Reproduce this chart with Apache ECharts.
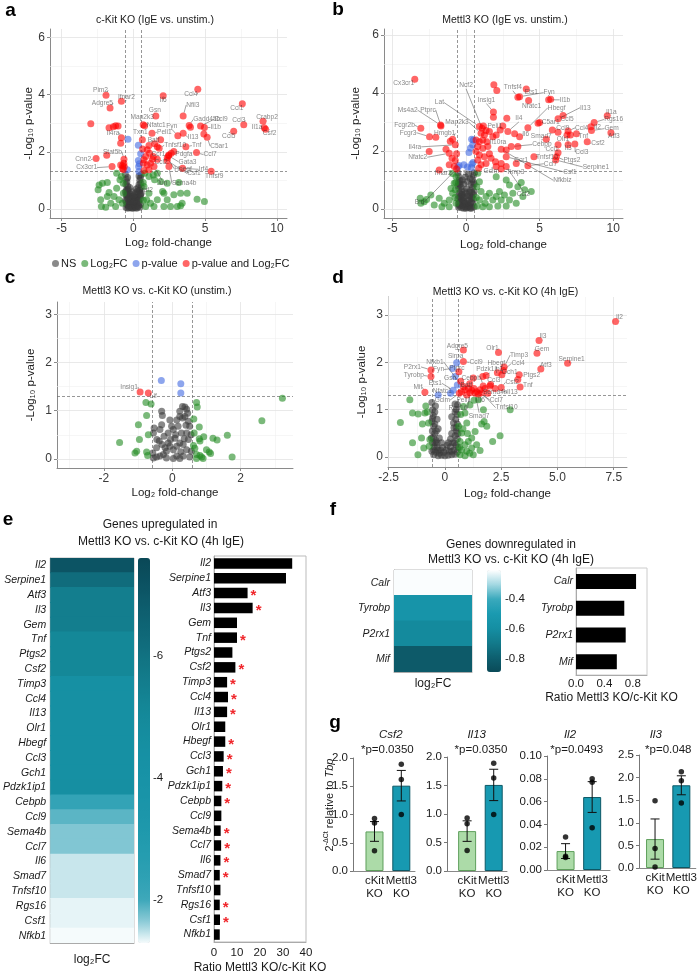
<!DOCTYPE html>
<html>
<head>
<meta charset="utf-8">
<title>Mettl3 KO vs c-Kit KO</title>
<script src="https://cdn.jsdelivr.net/npm/echarts@6.0.0/dist/echarts.min.js"></script>
<style>
html, body { margin: 0; padding: 0; background: #fff; }
#chart { width: 700px; height: 976px; }
</style>
</head>
<body>
<div id="chart"></div>
<script>
// ---------- volcano a : c-Kit KO (IgE vs. unstim.) ----------
const aNS = [[-0.55,1.2],[-0.5,1.05],[-0.45,0.95],[-0.52,0.85],[-0.4,0.8],[-0.35,0.7],[-0.48,0.65],[-0.3,0.55],[-0.42,0.5],[-0.25,0.45],[-0.38,0.35],[-0.2,0.35],[-0.15,0.25],[-0.32,0.22],[-0.1,0.15],[-0.25,0.12],[-0.05,0.08],[-0.45,0.15],[-0.55,0.3],[-0.5,0.05],[0,0.03],[0.05,0.1],[0.1,0.18],[0.15,0.28],[0.2,0.4],[0.25,0.5],[0.3,0.62],[0.35,0.75],[0.4,0.85],[0.45,1.0],[0.5,1.1],[0.55,1.2],[0.52,0.9],[0.42,0.6],[0.48,0.45],[0.3,0.3],[0.38,0.2],[0.2,0.08],[0.5,0.15],[0.55,0.55],[0.12,0.05],[-0.18,0.05],[-0.3,0.05],[0.3,0.06],[0.45,0.06],[-0.4,1.1],[0.4,1.15],[-0.1,0.35],[0.08,0.4],[-0.02,0.22],[-0.55,0.6],[0.55,0.75],[-0.25,0.75],[0.2,0.7],
  [-0.5,0.25],[-0.35,0.1],[-0.2,0.2],[0.0,0.12],[0.1,0.3],[0.25,0.2],[0.35,0.1],[0.5,0.35],[-0.45,0.45],[-0.15,0.5],[0.15,0.55],[0.3,0.4],[-0.3,0.4],[0,0.45],[-0.05,0.6],[0.45,0.65],[-0.4,0.65],[0.05,0.25],[-0.1,0.02],[0.22,0.02],[-0.38,0.02],[0.4,0.3],[-0.5,0.5],[0.5,0.5]];
const aFC = [[-2.38,0.84],[-2.15,0.90],[-1.81,0.92],[-2.45,0.67],[-2.27,0.32],[-2.22,0.08],[-1.57,0.20],[-1.81,0.43],[-1.34,0.43],[-1.16,0.72],[-0.93,1.02],[-1.16,1.25],[-0.83,1.13],[-1.00,0.32],[-0.76,0.20],[-0.69,0.55],[-1.23,0.08],[-1.92,0.06],[-1.69,0.57],[0.79,1.25],[1.09,1.13],[1.39,1.19],[1.48,1.02],[1.67,1.25],[1.90,0.96],[2.04,0.61],[1.67,0.32],[1.20,0.20],[1.09,0.55],[2.36,0.32],[2.82,0.49],[3.29,0.55],[3.40,0.20],[2.59,0.08],[3.75,0.55],[4.44,0.34],[4.95,0.26],[2.36,0.90],[3.17,0.92],[0.74,0.78],[0.93,0.32],[2.13,0.55],[3.06,0.08],[3.29,0.11],[2.13,0.08],[1.44,0.08],[0.86,0.08],[0.69,0.92,'Traf2'],[0.7,0.3],[-0.7,0.9]];
const aP = [[-0.37,2.44],[0.35,2.23],[0.51,1.93],[0.35,1.69],[0.42,1.58],[0.37,1.48],[-0.42,1.37],[0.39,1.31]];
const aBoth = [[-2.96,2.98],[-1.69,2.84],[-1.39,2.88],[-1.23,2.91],[-1.06,2.90],[-1.90,3.98,'Pim2'],[-0.83,3.77,'Ifnar2'],[-1.62,3.53,'Adgre5'],[-0.83,2.49,'Il4ra'],[-0.88,2.30],[-2.59,1.76,'Cnn2'],[-1.85,1.88],[-0.65,1.74,'Stat5b'],[-0.66,1.60],[-0.74,1.52],[-0.88,1.54],[-1.48,1.48,'Cx3cr1'],[-0.76,1.42],[-0.63,1.48],[-0.70,1.38],
  [4.49,4.19,'Ccl4'],[2.08,3.96,'Il6'],[7.59,3.68,'Ccl1'],[1.57,3.25,'Gsn'],[3.47,3.25,'Nfil3'],[9.03,3.07,'Crabp2'],[7.69,2.95,'Ccl3'],[9.12,2.84,'Il1a'],[9.21,2.79,'Csf2'],[0.69,2.95,'Map2k3'],[0.79,2.91,'Nfatc1'],[3.89,2.92,'Gadd45b'],[3.98,2.86],[4.68,2.90,'Ccl9'],[4.95,2.85,'Il1b'],[6.99,2.72,'Ccl5'],[3.10,2.56,'Fyn'],[1.30,2.65,'Peli1'],[3.47,2.65,'Il13'],[4.91,2.62],[5.14,2.51,'C5ar1'],[3.66,2.18,'Tnf'],[1.80,2.12,'Tnfsf10'],[0.63,2.42,'Txn1'],[1.09,2.22],[1.48,2.28,'Batf'],[1.67,2.18],[0.97,2.07],[4.40,1.97,'Ccl7'],[2.64,1.95,'Pdgfa'],[2.48,1.89],[1.13,1.95,'Ccr1'],[0.86,1.83],[0.74,1.72],[2.45,1.86,'Gata3'],[1.33,1.74,'Ccl2'],[2.36,1.79,'Hbegf'],[1.67,1.74],[3.43,1.42,'Irf4'],[2.36,1.69,'Csf1'],[5.42,1.32,'Tnfsf9'],[1.44,1.48,'Jun'],[2.48,1.48,'Sema4b'],[0.97,1.54],[1.09,1.37],[0.74,1.34],[1.90,2.42],[2.82,2.01],[1.39,1.83],[0.65,2.1],[0.7,1.6],[1.2,1.6]];
const aLabelPos = {Pim2:[2,-5,'r'],Adgre5:[3,-5,'r'],Ifnar2:[5,-4,'c'],Il6:[0,4,'c'],Ccl4:[-7,5,'c'],Nfil3:[3,-11,'l'],Ccl1:[1,4,'r'],Gsn:[-1,-6,'c'],Crabp2:[4,-4,'c'],Ccl3:[-5,-4,'c'],Il1a:[-2,-1,'r'],Csf2:[4,4,'c'],Map2k3:[-1,-7,'c'],Nfatc1:[2,-1,'l'],Gadd45b:[4,-6,'l'],Ccl9:[14,-7,'l'],Il1b:[6,0,'l'],Ccl5:[-5,5,'c'],Fyn:[-6,-10,'c'],Peli1:[5,-1,'l'],Txn1:[-2,-8,'c'],Il4ra:[-2,-5,'r'],Batf:[-1,-4,'c'],Il13:[10,4,'c'],C5ar1:[3,9,'l'],Tnf:[6,-1,'l'],Tnfsf10:[5,-3,'l'],Stat5b:[-2,-7,'r'],Ccr1:[2,1,'l'],Pdgfa:[4,1,'l'],Ccl7:[7,2,'l'],Cnn2:[-5,1,'r'],Ccl2:[2,3,'l'],Gata3:[10,6,'l'],Cx3cr1:[-15,1,'r'],Hbegf:[7,11,'l'],Irf4:[16,1,'l'],Csf1:[20,13,'l'],Tnfsf9:[3,5,'c'],Jun:[8,17,'c'],Sema4b:[3,17,'l'],Traf2:[2,8,'c']};

// ---------- volcano b : Mettl3 KO (IgE vs. unstim.) ----------
const bNS = [[-0.55,1.25],[-0.5,1.12],[-0.45,1.0],[-0.52,0.9],[-0.4,0.85],[-0.35,0.75],[-0.5,0.7],[-0.3,0.62],[-0.45,0.55],[-0.25,0.5],[-0.4,0.42],[-0.2,0.4],[-0.55,0.35],[-0.3,0.3],[-0.15,0.28],[-0.45,0.22],[-0.1,0.18],[-0.35,0.14],[-0.2,0.1],[-0.05,0.08],[-0.5,0.06],[-0.3,0.04],[0,0.03],[0.1,0.05],[0.25,0.06],[0.4,0.05],[0.55,0.08],[0.05,0.15],[0.15,0.2],[0.3,0.18],[0.45,0.2],[0.2,0.32],[0.35,0.38],[0.5,0.35],[0.25,0.45],[0.4,0.55],[0.55,0.6],[0.3,0.65],[0.45,0.75],[0.35,0.85],[0.52,0.92],[0.42,1.02],[0.5,1.15],[0.55,1.25],[-0.1,0.6],[0.05,0.7],[-0.15,0.85],[0.1,0.95],[-0.05,1.1],[0.15,1.2],[-0.25,1.0],[0.28,1.05],
  [-0.5,0.45],[-0.35,0.35],[-0.2,0.25],[0,0.2],[0.2,0.1],[0.35,0.25],[0.5,0.5],[-0.45,0.1],[-0.1,0.4],[0.1,0.45],[0.25,0.58],[-0.3,0.5],[0,0.55],[-0.55,0.8],[0.55,0.85],[-0.38,0.95],[0.4,0.4],[-0.15,0.03],[0.32,0.02],[-0.52,0.18]];
const bFC = [[-3.11,0.37],[-3.07,0.20],[-2.84,0.25],[-2.68,0.33],[-2.39,0.48],[-1.82,0.37],[-1.48,0.20],[-1.14,0.31],[-0.91,0.54],[-0.80,0.89],[-0.68,1.11],[-0.91,1.22],[-1.14,0.08],[-1.64,0.08],[-2.16,0.14],[-0.68,0.20],[-0.73,0.66],[-1.02,0.71],[0.80,1.23],[0.91,0.94],[0.73,0.77],[1.02,0.60],[1.36,0.43],[1.59,0.54],[1.82,0.31],[2.05,0.43],[2.27,0.60],[2.39,0.31],[2.61,0.48],[2.95,0.31],[3.18,0.54],[3.52,0.77],[3.75,0.91],[3.98,0.66],[4.43,0.60],[3.41,0.20],[2.73,0.10],[2.16,0.10],[1.59,0.08],[1.14,0.08],[0.91,0.31],[2.95,0.83],[3.86,0.43],[2.73,1.0],[2.05,1.11],[0.7,0.4],[0.75,0.1],[1.3,0.2],[-0.75,0.4],[-0.7,0.9]];
const bP = [[0.50,2.38],[0.38,2.40],[0.45,2.21],[0.30,2.10],[0.20,1.95],[-0.15,1.52],[0.10,1.45,'Sirpa'],[0.40,1.55],[-0.48,1.50],[-0.55,1.45],[0.48,1.60],[0.35,1.42]];
const bBoth = [[-3.48,4.47,'Cx3cr1'],[1.89,4.28],[2.09,4.08],[3.52,3.85,'Tnfsf4'],[4.09,4.13,'Ets1'],[4.25,3.74,'Nfatc1'],[3.64,3.87,'Fyn'],[5.61,3.76,'Il1b'],[5.75,3.78],
  [1.86,3.34,'Insig1'],[1.86,3.16],[2.77,3.13],[2.5,2.86],[2.32,2.72],[2.84,2.67,'Il4'],[2.05,2.55],[3.30,2.59],[3.64,2.49,'Il6'],[4.20,2.80,'Hbegf'],[5.0,2.98,'C5ar1'],[4.89,2.95],[6.59,3.22,'Ccl5'],[6.25,3.11,'Il13'],[9.59,3.21,'Il1a'],[8.70,2.98,'Rgs16'],[8.48,2.83,'Il2'],[8.52,2.70,'Gem'],[9.84,2.63,'Atf3'],[5.86,2.72,'Ccl9'],[6.25,2.64],[6.93,2.69,'Ccl4'],[7.5,2.59,'Tnf'],[6.86,2.55,'Olr1'],[7.09,2.55],[6.93,2.21,'Il3'],[7.39,2.24,'Ccl3'],[8.23,2.32,'Csf2'],[6.25,2.21,'Ccl1'],[6.25,1.94],[6.14,1.80,'Ptgs2'],[6.09,1.69,'Serpine1'],[5.45,2.40,'Smad7'],[4.61,1.80,'Tnfsf10'],[3.52,2.15],[3.07,2.15,'Cebpb'],[2.73,2.03],[2.39,2.06,'Nfkbiz'],[3.41,1.57,'Ccr1'],[4.20,1.49,'Ccl7'],[2.73,1.80,'Csf1'],[2.39,1.57],[2.0,1.63],[2.05,1.46,'Gclm'],[2.73,1.46,'Ccl2'],[2.39,1.38,'Timp3'],
  [-1.73,2.89,'Ms4a2'],[-1.70,2.86,'Ptprc'],[-3.07,2.78,'Fcgr2b'],[-2.48,2.49,'Fcgr3'],[-2.05,2.47],[-2.50,1.98],[-1.36,2.06],[-0.91,2.40,'Hmgb1'],[-1.07,2.33],[-0.73,2.21,'Il4ra'],[-1.14,1.92,'Nfatc2'],[-0.64,1.90],[-0.95,1.75],[-0.73,1.67],[-1.14,1.52],[-1.82,1.34,'Ifnar2'],[-0.64,1.38,'Bid'],[-0.80,1.46],
  [0.91,2.84,'Lat'],[1.09,2.78,'Ncf2'],[1.18,2.86,'Peli1'],[1.36,2.70],[1.02,2.61,'Map2k3'],[1.25,2.55],[1.14,2.38],[1.41,2.32,'Il10ra'],[0.91,2.32],[0.68,2.38],[0.80,2.15],[1.14,2.09],[1.48,2.15],[0.91,1.86],[1.25,1.80],[0.80,1.69],[1.59,1.90],[1.02,1.52],[1.36,1.57],[0.86,1.40],[1.70,1.75],[0.68,1.98],[1.59,2.67],[1.82,2.49]];
const bLabelPos = {Cx3cr1:[-11,4,'c'],Ncf2:[-16,-43,'c'],Tnfsf4:[-5,-10,'c'],Ets1:[5,3,'c'],Fyn:[24,-4,'l'],Il1b:[11,0,'l'],Lat:[-40,-24,'c'],Insig1:[-7,-12,'c'],Hbegf:[20,-20,'l'],Nfatc1:[3,6,'c'],Il13:[22,-11,'l'],Il1a:[4,-4,'c'],Ms4a2:[-23,-15,'r'],Ptprc:[-13,-16,'c'],C5ar1:[2,0,'l'],Ccl5:[4,4,'c'],Rgs16:[10,-3,'l'],Map2k3:[-24,-11,'c'],Peli1:[4,0,'l'],Il4:[11,-13,'c'],Fcgr2b:[-6,-3,'r'],Fcgr3:[-13,-4,'r'],Hmgb1:[-8,-6,'c'],Ccl9:[4,-2,'l'],Ccl4:[7,-3,'l'],Il2:[3,0,'l'],Gem:[13,-2,'l'],Il6:[6,-3,'c'],Smad7:[-5,-3,'c'],Tnf:[2,2,'l'],Olr1:[-4,4,'c'],Atf3:[3,4,'c'],Il10ra:[3,1,'l'],Il4ra:[-34,2,'r'],Cebpb:[21,-2,'l'],Il3:[0,3,'c'],Csf2:[4,2,'l'],Ccl3:[7,8,'c'],Nfatc2:[-22,4,'r'],Ccl1:[-6,4,'c'],Tnfsf10:[2,0,'l'],Ptgs2:[7,3,'l'],Ccr1:[5,-3,'c'],Ccl7:[16,-2,'l'],Serpine1:[27,7,'l'],Csf1:[57,15,'l'],Ifnar2:[4,3,'c'],Sirpa:[3,6,'c'],Gclm:[-5,5,'c'],Timp3:[5,3,'l'],Nfkbiz:[52,31,'l'],Bid:[-37,33,'c'],Ccl2:[17,28,'c']};

// ---------- volcano c : Mettl3 KO vs. c-Kit KO (unstim.) ----------
const cNS = [[-0.31,0.99],[-0.29,0.90],[-0.31,0.71],[-0.36,0.61],[-0.53,0.64],[-0.55,0.54],[-0.38,0.37],[-0.24,0.47],[-0.12,0.54],[0.03,0.61],[0.17,0.68],[0.30,1.09],[0.37,1.08],[0.22,0.88],[0.30,0.85],[0.45,0.95],[0.37,0.88],[0.47,0.78],[0.51,0.68],[0.42,0.54],[-0.12,0.33],[-0.07,0.26],[0.03,0.19],[0.13,0.26],[0.22,0.33],[0.32,0.30],[0.42,0.19],[0.08,0.43],[-0.17,0.16],[-0.26,0.09],[-0.36,0.06],[-0.46,0.04],[-0.55,0.02],[0.13,0.06],[0.32,0.06],[0.51,0.04],[-0.17,0.02],[0.03,0.01],[0.22,0.01],[0.47,0.40],[-0.46,0.23],[0.56,0.16],[-0.07,0.81],[0.13,0.81],[-0.02,0.68],[0.27,0.54],[-0.21,0.23],[0.42,1.03],[0.22,0.99],[-0.57,0.12],[0.55,0.5],[-0.45,0.4],[0.1,0.5],[-0.05,0.4],[0.35,0.42],[0.25,0.15],[-0.3,0.3],[0.4,0.7]];
const cFC = [[3.22,1.26],[2.62,0.79],[-1.54,0.34],[-1.04,0.16],[-1.09,0.12],[-0.99,0.71],[-0.96,0.40],[-0.75,0.90],[-0.77,1.17],[-0.62,1.14],[-0.70,0.50],[-0.75,0.14],[-0.72,0.07],[0.71,1.17],[0.73,1.08],[0.79,0.66],[0.63,0.83],[0.64,0.54],[0.81,0.37],[0.79,0.42],[0.92,0.46],[1.19,0.43],[1.31,0.39],[1.61,0.49],[1.75,0.04],[1.0,0.19],[1.08,0.14],[1.12,0.11],[0.81,0.07],[0.86,0.04],[0.71,0.09],[0.66,0.22],[0.71,0.01],[0.90,0.01],[0.62,0.28]];
const cP = [[-0.32,1.63],[0.25,1.56],[0.25,1.37]];
const cBoth = [[-0.94,1.39,'Insig1'],[-0.70,1.37,'Lif']];
const cLabelPos = {Insig1:[-11,-5,'c'],Lif:[5,3,'c']};

// ---------- volcano d : Mettl3 KO vs. c-Kit KO (4h IgE) ----------
const dNS = [[-0.58,1.15],[-0.55,1.0],[-0.52,0.88],[-0.58,0.75],[-0.5,0.65],[-0.56,0.55],[-0.45,0.5],[-0.52,0.42],[-0.4,0.35],[-0.55,0.3],[-0.48,0.22],[-0.35,0.2],[-0.58,0.12],[-0.4,0.1],[-0.25,0.08],[-0.5,0.05],[-0.15,0.04],[-0.3,0.03],[0,0.03],[0.15,0.04],[0.3,0.05],[0.45,0.06],[0.55,0.1],[0.4,0.15],[0.5,0.25],[0.35,0.3],[0.55,0.38],[0.45,0.45],[0.52,0.55],[0.4,0.62],[0.55,0.7],[0.48,0.8],[0.55,0.9],[0.5,1.0],[0.56,1.1],[0.3,0.5],[-0.3,0.6],[-0.2,0.15],[0.2,0.12],[-0.45,0.95],[-0.35,0.8],[0.3,0.85],[-0.1,0.2],[0.1,0.25],[-0.6,0.4],[0.58,0.2],[-0.42,1.08],[0.45,1.12],[-0.25,0.4],[0.25,0.38],
  [-0.45,0.7],[-0.38,0.55],[-0.5,0.15],[-0.3,0.15],[-0.05,0.1],[0.05,0.15],[0.25,0.22],[0.42,0.3],[0.38,0.72],[0.5,0.62],[-0.55,0.82],[0.45,0.95],[-0.35,0.3],[0.15,0.3],[-0.15,0.3],[0.3,0.12],[-0.45,0.3],[0.58,0.5]];
const dFC = [[-1.98,0.73],[-1.56,1.21],[-1.44,0.93],[-1.19,0.91],[-1.44,0.30],[-1.04,0.40],[-0.89,0.93],[-0.85,1.08],[-1.0,0.70],[-0.79,0.95],[-0.94,0.19],[-0.70,0.23],[-0.67,0.37],[-0.73,0.72],[2.90,1.0],[2.45,0.45],[2.12,0.33],[1.74,0.75],[1.63,0.70],[1.86,0.65],[1.34,0.54],[1.11,1.10],[0.89,0.93],[0.82,1.07],[0.97,0.72],[0.74,0.51],[1.04,0.33],[1.19,0.40],[0.89,0.26],[0.74,0.15],[0.97,0.12],[1.19,0.19],[1.41,0.26],[0.67,0.05],[0.89,0.03],[1.26,0.05],[1.56,0.14],[0.67,0.33],[0.61,0.65],[1.29,1.2],[1.49,1.21],[1.71,1.0],[0.8,0.6],[1.0,0.5],[0.7,0.9],[1.1,0.08],[0.65,0.2],[-1.2,0.05]];
const dP = [[0.52,1.99,'Sirpa'],[0.34,1.87,'Fyn'],[0.45,1.70,'Gsn'],[0.37,1.41,'Ets1'],[-0.30,1.31,'Nfatc1'],[0.25,1.35],[0.55,1.52]];
const dBoth = [[7.58,2.86,'Il2'],[4.18,2.46,'Il3'],[4.09,2.19,'Gem'],[5.45,1.98,'Serpine1'],[4.26,1.86,'Atf3'],[2.38,2.21,'Olr1'],[2.63,1.90,'Timp3'],[2.33,1.78,'Hbegf'],[2.60,1.83,'Ccl4'],[2.53,1.74,'Gch1'],[3.30,1.74,'Ptgs2'],[3.24,1.64],[3.34,1.48,'Tnf'],[2.50,1.47,'Csf2'],[2.0,1.50,'Ccl3'],[2.03,1.53],[1.68,1.70,'Pdzk1ip1'],[1.83,1.72],[1.70,1.50,'Cebpb'],[0.82,2.02,'Ccl9'],[0.82,2.26,'Adgre5'],[0.62,1.80,'Ptprc'],[-0.62,1.84,'P2rx1'],[-0.62,1.70,'Tyrobp'],[-0.89,1.37,'Mif'],
  [0.74,1.38],[0.89,1.42,'Nfkb1'],[1.04,1.45,'Batf'],[1.19,1.41],[1.29,1.45,'Sema4b'],[1.41,1.38,'Ccl7'],[1.49,1.33,'Il6'],[1.34,1.35,'Smad7'],[1.11,1.36,'Rgs16'],[0.97,1.31,'Peli1'],[1.56,1.42],[1.63,1.36,'Tnfsf10'],[0.82,1.49],[0.64,1.35,'Gclm'],[1.78,1.45],[2.23,1.45,'Il13'],[1.26,1.67],[1.1,1.55],[0.7,1.6],[1.9,1.35]];
const dLabelPos = {Il2:[4,-4,'c'],Il3:[4,-4,'c'],Gem:[5,-4,'c'],Serpine1:[4,-4,'c'],Atf3:[5,-4,'c'],Olr1:[-6,-4,'c'],Timp3:[6,-12,'l'],Hbegf:[-1,-10,'c'],Ccl4:[8,-7,'l'],Gch1:[0,-2,'l'],Ptgs2:[4,1,'l'],Tnf:[3,-2,'l'],Csf2:[11,-5,'c'],Ccl3:[4,-6,'c'],Pdzk1ip1:[7,-7,'c'],Cebpb:[-12,-8,'c'],Ccl9:[6,1,'l'],Adgre5:[-6,-4,'c'],Ptprc:[-2,-4,'c'],P2rx1:[-10,-3,'r'],Tyrobp:[-7,-1,'r'],Mif:[-7,-5,'c'],Nfkb1:[-30,-28,'c'],Batf:[-2,-3,'c'],Sema4b:[9,4,'l'],Ccl7:[13,8,'l'],Il6:[3,6,'c'],Smad7:[4,23,'c'],Peli1:[-3,5,'c'],Tnfsf10:[25,15,'c'],Gclm:[-17,7,'c'],Il13:[12,4,'l'],Rgs16:[-12,16,'c'],Sirpa:[-1,-7,'c'],Fyn:[-14,1,'c'],Gsn:[-5,2,'c'],Ets1:[-18,-7,'c'],Nfatc1:[4,-4,'c']};

// ---------- e : genes upregulated in Mettl3 KO vs. c-Kit KO (4h IgE) ----------
const eGenes = ['Il2','Serpine1','Atf3','Il3','Gem','Tnf','Ptgs2','Csf2','Timp3','Ccl4','Il13','Olr1','Hbegf','Ccl3','Gch1','Pdzk1ip1','Cebpb','Ccl9','Sema4b','Ccl7','Il6','Smad7','Tnfsf10','Rgs16','Csf1','Nfkb1'];
const eLogFC = [-7.1,-6.2,-5.55,-5.55,-5.55,-5.1,-5.1,-5.1,-4.4,-4.4,-4.4,-4.4,-4.4,-4.4,-4.4,-4.5,-2.25,-1.87,-1.70,-1.70,-1.45,-1.45,-1.45,-1.35,-1.35,-1.3];
const eRatio = [34.0,31.3,14.6,16.8,10.0,10.0,8.0,9.3,5.7,6.1,5.7,4.9,4.9,4.2,3.9,3.6,3.2,3.2,2.9,3.1,2.8,2.5,2.8,2.5,2.6,2.5];
const eSig = [0,0,1,1,0,1,0,1,1,1,1,0,1,1,1,1,1,0,1,1,1,1,0,1,1,0];
const eColorTicks = [-6,-4,-2];

// ---------- f : genes downregulated ----------
const fGenes = ['Calr','Tyrobp','P2rx1','Mif'];
const fLogFC = [-0.21,-0.55,-0.62,-0.82];
const fRatio = [0.846,0.68,0.70,0.575];
const fColorTicks = [-0.8,-0.6,-0.4];

// ---------- g : qPCR ----------
const gGenes = ['Csf2','Il13','Il2','Il3'];
const gPvals = ['*p=0.0350','*p=0.0350','*p=0.0493','*p=0.048'];
const gGroups = ['cKit\nKO','Mettl3\nKO'];
const gMeans = [[0.70,1.51],[0.70,1.51],[0.0166,0.064],[0.64,1.83]];
const gSem = [[0.175,0.27],[0.18,0.275],[0.0065,0.0135],[0.445,0.21]];
const gPoints = [[[0.93,0.85,0.36],[1.89,1.62,1.0]],[[0.93,0.83,0.36],[1.89,1.63,0.99]],[[0.029,0.011,0.012],[0.080,0.077,0.037]],[[1.49,0.43,0.02],[2.13,1.93,1.44]]];
const gYmax = [2.0,2.0,0.10,2.5];
const gYstep = [0.5,0.5,0.02,0.5];

// ---------- styling ----------
const FONT = 'Liberation Sans, Arial, sans-serif';
const GROUPS = ['NS', 'Log₂FC', 'p-value', 'p-value and Log₂FC'];
const GROUP_COLORS = ['#3a3a3a', '#228b22', '#4169e1', '#ff0000'];
const TEAL_E = ['#0a4856','#0b5060','#0d5a6a','#0e6373','#106c7c','#127685','#137f8f','#148797','#158c9e','#1690a3','#1792a6','#1994a8','#1c96aa','#209aad','#269db0','#2fa1b4','#3ea8ba','#8ccbd7','#f5fbfc'];
const TEAL_F = ['#0a4a58','#0e6070','#127a8b','#158fa3','#1a9ab0','#3aa9bc','#a3d8e2','#ffffff'];

const grids = [], xAxes = [], yAxes = [], series = [], graphics = [];

function txt(x, y, text, size, extra) {
  graphics.push({type: 'text', x: x, y: y, silent: true,
    style: Object.assign({text: text, fontSize: size, fontFamily: FONT, fill: '#1a1a1a', align: 'center', verticalAlign: 'middle'}, extra || {})});
}

// labels sit at a fixed pixel offset from their point: [dx, dy, anchor]
function placer(pos) {
  return function (p) {
    const o = pos[p.text];
    if (!o) return {};
    const cx = p.rect.x + p.rect.width / 2, cy = p.rect.y + p.rect.height / 2;
    return {x: cx + o[0], y: cy + o[1], align: {l: 'left', r: 'right', c: 'center'}[o[2]], verticalAlign: 'middle'};
  };
}

function volcano(gi, box, xr, yr, xMaj, xMin, yMaj, yMin, sets, pos, gaps, xFmt) {
  grids.push(box);
  xAxes.push({gridIndex: gi, type: 'value', min: xr[0], max: xr[1], splitLine: {show: false},
    axisLine: {onZero: false, lineStyle: {color: '#8a8a8a'}},
    axisTick: {customValues: xMaj, length: 3, lineStyle: {color: '#8a8a8a'}},
    axisLabel: {customValues: xMaj, formatter: xFmt, fontSize: 12, color: '#3a3a3a', margin: 5, fontFamily: FONT},
    name: 'Log₂ fold-change', nameLocation: 'middle', nameGap: gaps[0],
    nameTextStyle: {fontSize: 11.5, color: '#222', fontFamily: FONT}});
  yAxes.push({gridIndex: gi, type: 'value', min: yr[0], max: yr[1], splitLine: {show: false},
    axisLine: {onZero: false, lineStyle: {color: '#8a8a8a'}},
    axisTick: {customValues: yMaj, length: 3, lineStyle: {color: '#8a8a8a'}},
    axisLabel: {customValues: yMaj, fontSize: 12, color: '#3a3a3a', margin: 5, fontFamily: FONT},
    name: '-Log₁₀ p-value', nameLocation: 'middle', nameGap: gaps[1],
    nameTextStyle: {fontSize: 11.5, color: '#222', fontFamily: FONT}});
  const major = {color: '#e3e3e3', width: 0.8, type: 'solid'};
  const minor = {color: '#f0f0f0', width: 0.6, type: 'solid'};
  const dash = {color: '#6a6a6a', width: 0.7, type: [3, 2]};
  const lines = [];
  xMin.forEach(v => lines.push({xAxis: v, lineStyle: minor}));
  yMin.forEach(v => lines.push({yAxis: v, lineStyle: minor}));
  xMaj.forEach(v => lines.push({xAxis: v, lineStyle: major}));
  yMaj.forEach(v => lines.push({yAxis: v, lineStyle: major}));
  lines.push({xAxis: -0.585, lineStyle: dash}, {xAxis: 0.585, lineStyle: dash}, {yAxis: 1.301, lineStyle: dash});
  sets.forEach((pts, k) => {
    series.push({
      name: GROUPS[k], type: 'scatter', xAxisIndex: gi, yAxisIndex: gi, symbolSize: 7, z: 2 + k,
      itemStyle: {color: GROUP_COLORS[k], opacity: 0.6},
      label: {show: false, formatter: '{b}', fontSize: 6.6, color: '#333', fontFamily: FONT},
      labelLine: {show: false, lineStyle: {color: '#444', width: 0.5}},
      labelLayout: placer(pos),
      emphasis: {disabled: true},
      data: pts.map(p => p[2]
        ? {value: [p[0], p[1]], name: p[2], label: {show: true}, labelLine: {show: true}}
        : {value: [p[0], p[1]]}),
      markLine: k === 0 ? {silent: true, symbol: 'none', z: 1, animation: false, label: {show: false}, data: lines} : undefined
    });
  });
}

const fmtInt = v => String(v);
const fmtD = v => (v === 0 ? '0' : v.toFixed(1));

volcano(0, {left: 50, top: 29, width: 237, height: 189}, [-5.8, 10.7], [-0.32, 6.3],
  [-5, 0, 5, 10], [-2.5, 2.5, 7.5], [0, 2, 4, 6], [1, 3, 5], [aNS, aFC, aP, aBoth], aLabelPos, [19, 14], fmtInt);
volcano(1, {left: 384, top: 29, width: 239, height: 189}, [-5.57, 10.66], [-0.31, 6.2],
  [-5, 0, 5, 10], [-2.5, 2.5, 7.5], [0, 2, 4, 6], [1, 3, 5], [bNS, bFC, bP, bBoth], bLabelPos, [21, 22], fmtInt);
volcano(2, {left: 57, top: 302, width: 236, height: 166}, [-3.37, 3.53], [-0.19, 3.26],
  [-2, 0, 2], [-3, -1, 1, 3], [0, 1, 2, 3], [0.5, 1.5, 2.5], [cNS, cFC, cP, cBoth], cLabelPos, [19, 20], fmtInt);
volcano(3, {left: 388, top: 297, width: 239, height: 170}, [-2.53, 8.09], [-0.21, 3.38],
  [-2.5, 0, 2.5, 5, 7.5], [-1.25, 1.25, 3.75, 6.25], [0, 1, 2, 3], [0.5, 1.5, 2.5], [dNS, dFC, dP, dBoth], dLabelPos, [21, 20], fmtD);

const geneLabel = {fontStyle: 'italic', fontSize: 10.5, color: '#1a1a1a', fontFamily: FONT};
const thinAxis = {show: true, lineStyle: {color: '#aaa'}};
const noSplit = {show: false};

// heatmap rows drawn as rects that overlap by 1px, coloured by the visualMap
function heatCell(params, api) {
  const c = api.coord([api.value(0), api.value(1)]);
  const s = api.size([1, 1]);
  return {type: 'rect', shape: {x: c[0] - s[0] / 2, y: c[1] - s[1] / 2 - 0.5, width: s[0], height: s[1] + 1},
    style: {fill: api.visual('color')}};
}

// e heatmap (grid 4)
grids.push({left: 48, top: 558, width: 86, height: 385, show: true, borderColor: '#bbb', borderWidth: 1});
xAxes.push({gridIndex: 4, type: 'category', data: ['log₂FC'], axisLine: thinAxis, splitLine: noSplit,
  axisTick: {alignWithLabel: true, length: 4, lineStyle: {color: '#aaa'}},
  axisLabel: {fontSize: 12, color: '#1a1a1a', margin: 11, fontFamily: FONT}});
yAxes.push({gridIndex: 4, type: 'category', data: eGenes, inverse: true, axisLine: thinAxis, splitLine: noSplit,
  axisTick: {alignWithLabel: true, length: 3, lineStyle: {color: '#aaa'}}, axisLabel: Object.assign({margin: 4}, geneLabel)});
const eHeatIndex = series.length;
series.push({type: 'custom', xAxisIndex: 4, yAxisIndex: 4, renderItem: heatCell, encode: {x: 0, y: 1}, clip: true, silent: true,
  data: eGenes.map((g, i) => [0, i, eLogFC[i]])});

// e colour bar tick axis (grid 5)
grids.push({left: 138, top: 558, width: 12, height: 385});
xAxes.push({gridIndex: 5, type: 'value', min: 0, max: 1, show: false});
yAxes.push({gridIndex: 5, type: 'value', min: -7.6, max: -1.3, inverse: true, position: 'right', splitLine: noSplit,
  axisLine: {show: false}, axisTick: {customValues: eColorTicks, length: 3, lineStyle: {color: '#555'}},
  axisLabel: {customValues: eColorTicks, fontSize: 11.5, color: '#1a1a1a', margin: 3, fontFamily: FONT}});

// e bars (grid 6)
grids.push({left: 214, top: 556, width: 92, height: 386, show: true, borderColor: '#bbb', borderWidth: 1});
xAxes.push({gridIndex: 6, type: 'value', min: 0, max: 40, interval: 10, splitLine: noSplit, axisLine: thinAxis,
  axisTick: {length: 3, lineStyle: {color: '#aaa'}},
  axisLabel: {fontSize: 11.5, color: '#1a1a1a', margin: 5, fontFamily: FONT},
  name: 'Ratio Mettl3 KO/c-Kit KO', nameLocation: 'middle', nameGap: 20, nameTextStyle: {fontSize: 12, color: '#1a1a1a', fontFamily: FONT}});
yAxes.push({gridIndex: 6, type: 'category', data: eGenes, inverse: true, axisLine: thinAxis,
  axisTick: {alignWithLabel: true, length: 2, lineStyle: {color: '#aaa'}}, axisLabel: Object.assign({margin: 3}, geneLabel)});
series.push({type: 'bar', xAxisIndex: 6, yAxisIndex: 6, data: eRatio, barWidth: 10.5, itemStyle: {color: '#000'},
  emphasis: {disabled: true},
  label: {show: true, position: 'right', distance: 3, formatter: p => (eSig[p.dataIndex] ? '*' : ''),
    color: '#f0262b', fontSize: 15, fontWeight: 'bold', offset: [0, 3], fontFamily: FONT}});

// f heatmap (grid 7)
grids.push({left: 394, top: 570, width: 78, height: 102, show: true, borderColor: '#bbb', borderWidth: 1});
xAxes.push({gridIndex: 7, type: 'category', data: ['log₂FC'], axisLine: thinAxis, splitLine: noSplit,
  axisTick: {alignWithLabel: true, length: 4, lineStyle: {color: '#aaa'}},
  axisLabel: {fontSize: 12, color: '#1a1a1a', margin: 6, fontFamily: FONT}});
yAxes.push({gridIndex: 7, type: 'category', data: fGenes, inverse: true, axisLine: thinAxis, splitLine: noSplit,
  axisTick: {alignWithLabel: true, length: 3, lineStyle: {color: '#aaa'}}, axisLabel: Object.assign({margin: 4}, geneLabel)});
const fHeatIndex = series.length;
series.push({type: 'custom', xAxisIndex: 7, yAxisIndex: 7, renderItem: heatCell, encode: {x: 0, y: 1}, clip: true, silent: true,
  data: fGenes.map((g, i) => [0, i, fLogFC[i]])});

// f colour bar tick axis (grid 8)
grids.push({left: 487, top: 570, width: 14, height: 102});
xAxes.push({gridIndex: 8, type: 'value', min: 0, max: 1, show: false});
yAxes.push({gridIndex: 8, type: 'value', min: -0.89, max: -0.205, position: 'right', splitLine: noSplit,
  axisLine: {show: false}, axisTick: {customValues: fColorTicks, length: 3, lineStyle: {color: '#555'}},
  axisLabel: {customValues: fColorTicks, formatter: v => v.toFixed(1), fontSize: 11.5, color: '#1a1a1a', margin: 4, fontFamily: FONT}});

// f bars (grid 9)
grids.push({left: 576, top: 568, width: 71, height: 107, show: true, borderColor: '#ccc', borderWidth: 1});
xAxes.push({gridIndex: 9, type: 'value', min: 0, max: 1.0, interval: 0.4, splitLine: noSplit, axisLine: thinAxis,
  axisTick: {length: 3, lineStyle: {color: '#aaa'}},
  axisLabel: {formatter: v => v.toFixed(1), showMaxLabel: false, fontSize: 11.5, color: '#1a1a1a', margin: 3, fontFamily: FONT},
  name: 'Ratio Mettl3 KO/c-Kit KO', nameLocation: 'middle', nameGap: 17, nameTextStyle: {fontSize: 12, color: '#1a1a1a', fontFamily: FONT}});
yAxes.push({gridIndex: 9, type: 'category', data: fGenes, inverse: true, axisLine: thinAxis,
  axisTick: {alignWithLabel: true, length: 2, lineStyle: {color: '#aaa'}}, axisLabel: Object.assign({margin: 3}, geneLabel)});
series.push({type: 'bar', xAxisIndex: 9, yAxisIndex: 9, data: fRatio, barWidth: 15, itemStyle: {color: '#000'}, emphasis: {disabled: true}});

// g panels (grids 10-13)
const gBox = [{left: 353, width: 62, xmin: 0.198, xmax: 2.511, top: 758, height: 113},
              {left: 447, width: 60, xmin: 0.243, xmax: 2.50, top: 757, height: 114},
              {left: 547, width: 63, xmin: 0.303, xmax: 2.67, top: 756, height: 114},
              {left: 639, width: 58, xmin: 0.39, xmax: 2.55, top: 755, height: 113}];
const gFill = ['#acdba8', '#1799b1'];
const gStroke = ['#5e9f5b', '#0c5866'];
gGenes.forEach((gene, k) => {
  const gi = 10 + k, b = gBox[k];
  const digits = gYstep[k] < 0.1 ? 2 : 1;
  grids.push({left: b.left, top: b.top, width: b.width, height: b.height});
  xAxes.push({gridIndex: gi, type: 'value', min: b.xmin, max: b.xmax, splitLine: noSplit,
    axisLine: {onZero: false, lineStyle: {color: '#888'}}, axisTick: {show: false},
    axisLabel: {customValues: [1, 2], formatter: v => gGroups[v - 1], fontSize: 11.5, lineHeight: 12.5, color: '#1a1a1a', margin: 4, fontFamily: FONT}});
  yAxes.push({gridIndex: gi, type: 'value', min: 0, max: gYmax[k], interval: gYstep[k], splitLine: noSplit,
    axisLine: {show: true, onZero: false, lineStyle: {color: '#777'}}, axisTick: {show: true, length: 3, lineStyle: {color: '#777'}},
    axisLabel: {formatter: v => v.toFixed(digits), fontSize: 11.5, color: '#1a1a1a', margin: 5, fontFamily: FONT}});
  series.push({type: 'bar', xAxisIndex: gi, yAxisIndex: gi, barWidth: 18, emphasis: {disabled: true},
    data: gMeans[k].map((m, i) => ({value: [i + 1, m], itemStyle: {color: gFill[i], borderColor: gStroke[i], borderWidth: 1}}))});
  series.push({type: 'custom', xAxisIndex: gi, yAxisIndex: gi, z: 4, silent: true,
    encode: {x: 0, y: [1, 2]},
    data: gMeans[k].map((m, i) => [i + 1, m - gSem[k][i], m + gSem[k][i]]),
    renderItem: function (params, api) {
      const x = api.value(0);
      const lo = api.coord([x, api.value(1)]), hi = api.coord([x, api.value(2)]);
      const w = 4.5, st = {stroke: '#111', lineWidth: 1};
      return {type: 'group', children: [
        {type: 'line', shape: {x1: lo[0], y1: lo[1], x2: hi[0], y2: hi[1]}, style: st},
        {type: 'line', shape: {x1: hi[0] - w, y1: hi[1], x2: hi[0] + w, y2: hi[1]}, style: st},
        {type: 'line', shape: {x1: lo[0] - w, y1: lo[1], x2: lo[0] + w, y2: lo[1]}, style: st}
      ]};
    }});
  const pts = [];
  gPoints[k].forEach((vals, i) => vals.forEach(v => pts.push([i + 1, v])));
  series.push({type: 'scatter', xAxisIndex: gi, yAxisIndex: gi, z: 5, symbolSize: 5.5, itemStyle: {color: '#000'}, data: pts, emphasis: {disabled: true}});
});

// ---------- free text ----------
const letter = {fontSize: 19, fontWeight: 'bold', fill: '#000'};
txt(10.5, 10.5, 'a', 19, letter); txt(338, 10, 'b', 19, letter);
txt(10, 278, 'c', 19, letter); txt(338, 278, 'd', 19, letter);
txt(8, 520, 'e', 19, letter); txt(333, 510, 'f', 19, letter); txt(335, 723, 'g', 19, letter);
txt(155, 20.5, 'c-Kit KO (IgE vs. unstim.)', 10.5);
txt(505, 20, 'Mettl3 KO (IgE vs. unstim.)', 10.5);
txt(157, 291.5, 'Mettl3 KO vs. c-Kit KO (unstim.)', 10.5);
txt(505.5, 292.5, 'Mettl3 KO vs. c-Kit KO (4h IgE)', 10.5);
txt(160, 525, 'Genes upregulated in', 12);
txt(161, 541.5, 'Mettl3 KO vs. c-Kit KO (4h IgE)', 12);
txt(511, 545, 'Genes downregulated in', 12);
txt(511, 559.5, 'Mettl3 KO vs. c-Kit KO (4h IgE)', 12);
const gTitleX = [390.7, 476.7, 570, 655.7], gPX = [387.3, 481, 576.7, 668.3];
gGenes.forEach((g, k) => {
  txt(gTitleX[k], 735, g, 11.5, {fontStyle: 'italic'});
  txt(gPX[k], 749.5, gPvals[k], 11.5);
});
graphics.push({type: 'text', x: 330, y: 805, rotation: Math.PI / 2, silent: true,
  style: {text: '{b|2}{s|-ΔCt}{b| relative to }{i|Tbp}', align: 'center', verticalAlign: 'middle', fill: '#1a1a1a',
    rich: {b: {fontSize: 11, fontFamily: FONT, lineHeight: 14}, s: {fontSize: 7, fontFamily: FONT, verticalAlign: 'top', lineHeight: 14},
           i: {fontSize: 11, fontStyle: 'italic', fontFamily: FONT, lineHeight: 14}}}});

const chart = echarts.init(document.getElementById('chart'), null, {width: 700, height: 976});
chart.setOption({
  animation: false,
  backgroundColor: '#fff',
  textStyle: {fontFamily: FONT},
  legend: {data: GROUPS, left: 47, top: 253, icon: 'circle', itemWidth: 7, itemHeight: 7, itemGap: 5,
    selectedMode: false, textStyle: {fontSize: 11, color: '#1a1a1a', padding: [0, 0, 0, -3]}},
  visualMap: [
    {type: 'continuous', seriesIndex: eHeatIndex, dimension: 2, min: -7.6, max: -1.3, inverse: true, left: 138, top: 558,
      itemWidth: 12, itemHeight: 385, padding: 0, calculable: false, hoverLink: false, inRange: {color: TEAL_E}},
    {type: 'continuous', seriesIndex: fHeatIndex, dimension: 2, min: -0.89, max: -0.205, left: 487, top: 570,
      itemWidth: 14, itemHeight: 102, padding: 0, calculable: false, hoverLink: false, inRange: {color: TEAL_F}}
  ],
  grid: grids,
  xAxis: xAxes,
  yAxis: yAxes,
  series: series,
  graphic: graphics
});
</script>
</body>
</html>
